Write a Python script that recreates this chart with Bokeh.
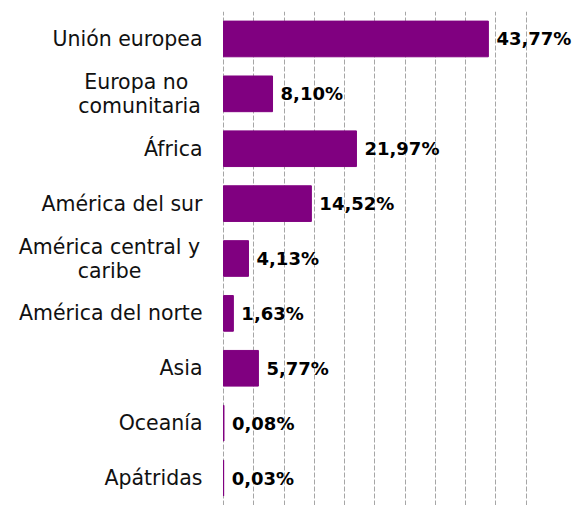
from bokeh.plotting import figure
from bokeh.models import ColumnDataSource, FixedTicker, Range1d, FactorRange
from bokeh.core.properties import value
from bokeh.embed import file_html
from bokeh.resources import INLINE

categories = ["Unión europea", "Europa no \ncomunitaria", "África", "América del sur",
              "América central y\ncaribe", "América del norte", "Asia", "Oceanía", "Apátridas"]
values = [43.77, 8.10, 21.97, 14.52, 4.13, 1.63, 5.77, 0.08, 0.03]
labels = ["43,77%", "8,10%", "21,97%", "14,52%", "4,13%", "1,63%", "5,77%", "0,08%", "0,03%"]
grid_ticks = [0, 5, 10, 15, 20, 25, 30, 35, 40, 45, 50]

# layout
W, H = 574, 505
AXIS_PX = 223          # pixel position of the value 0
X_MAX = 58
x_min = -X_MAX * AXIS_PX / (W - AXIS_PX)   # room on the left for category labels

STANDOFF = 21
LINE_PX = 24
HALF_BLOCK = {"Europa no \ncomunitaria": 63, "América central y\ncaribe": 93}

# one text item per label line: single-line labels right-aligned next to the axis,
# lines of two-line labels centred within their block
l_cat, l_txt, l_align, l_xoff, l_yoff = [], [], [], [], []
for c in categories:
    lines = c.split("\n")
    n = len(lines)
    for i, t in enumerate(lines):
        l_cat.append(c)
        l_txt.append(t)
        if n == 1:
            l_align.append("right")
            l_xoff.append(-STANDOFF)
        else:
            l_align.append("center")
            l_xoff.append(-(STANDOFF + HALF_BLOCK[c]))
        l_yoff.append((i - (n - 1) / 2) * LINE_PX)

src = ColumnDataSource(dict(cat=categories, val=values, lab=labels))
lsrc = ColumnDataSource(dict(cat=l_cat, txt=l_txt, align=l_align, xoff=l_xoff,
                             yoff=l_yoff, zero=[0] * len(l_cat)))

p = figure(width=W, height=H, output_backend="svg", toolbar_location=None,
           y_range=FactorRange(factors=categories[::-1]), x_range=Range1d(x_min, X_MAX),
           min_border_left=0, min_border_right=0, min_border_top=11, min_border_bottom=0)
p.outline_line_color = None
p.hbar(y="cat", right="val", left=0, height=0.65, source=src,
       fill_color="#800080", line_color="#800080")
p.text(x="val", y="cat", text="lab", source=src, x_offset=8,
       text_baseline="middle", text_font=value("DejaVu Sans"),
       text_font_style="bold", text_font_size="18px", text_color="black")
p.text(x="zero", y="cat", text="txt", source=lsrc, x_offset="xoff", y_offset="yoff",
       text_align="align", text_baseline="middle",
       text_font=value("DejaVu Sans"), text_font_size="20.5px", text_color="#111111")

p.xaxis.visible = False
p.yaxis.visible = False
p.xgrid.ticker = FixedTicker(ticks=grid_ticks)
p.xgrid.grid_line_color = "#a6a6a6"
p.xgrid.grid_line_dash = "5 2"
p.ygrid.grid_line_color = None

open("out.html", "w").write(file_html(p, INLINE))
